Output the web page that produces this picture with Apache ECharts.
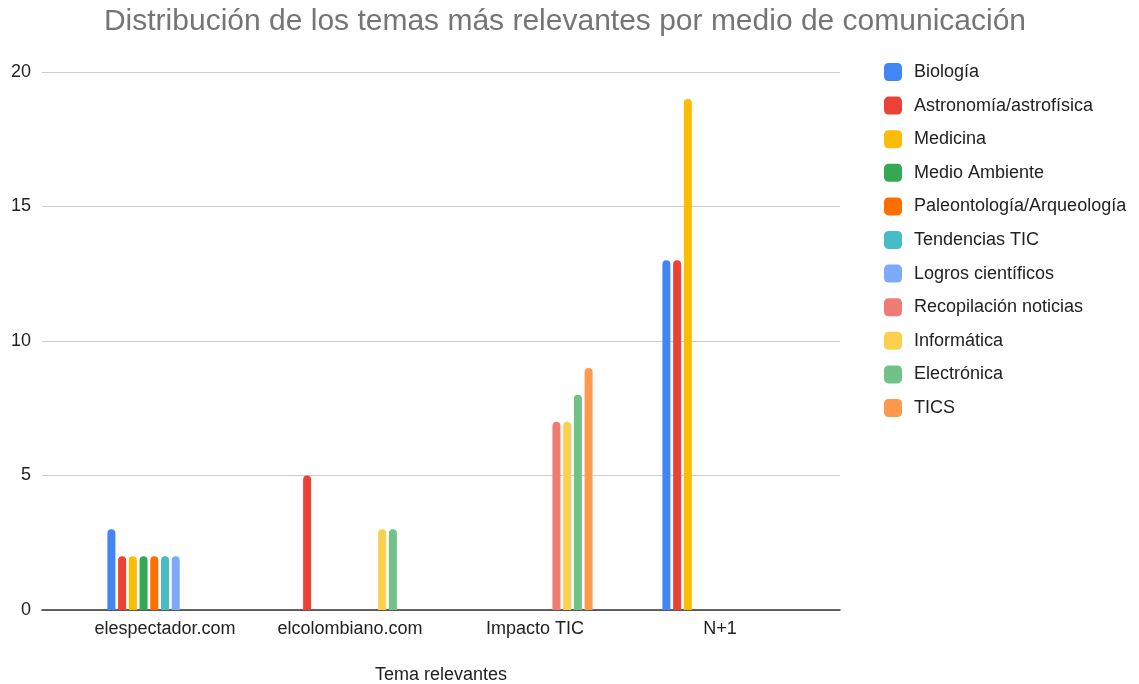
<!DOCTYPE html>
<html>
<head>
<meta charset="utf-8">
<script src="https://cdn.jsdelivr.net/npm/echarts@6/dist/echarts.min.js"></script>
<style>html,body{margin:0;padding:0;background:#fff}#c{width:1139px;height:684px}</style>
</head>
<body>
<div id="c"></div>
<script>
const categories = ['elespectador.com', 'elcolombiano.com', 'Impacto TIC', 'N+1'];
const seriesNames = ['Biología', 'Astronomía/astrofísica', 'Medicina', 'Medio Ambiente', 'Paleontología/Arqueología', 'Tendencias TIC', 'Logros científicos', 'Recopilación noticias', 'Informática', 'Electrónica', 'TICS'];
const biologia = [3, null, null, 13];
const astronomia = [2, 5, null, 13];
const medicina = [2, null, null, 19];
const medioAmbiente = [2, null, null, null];
const paleontologia = [2, null, null, null];
const tendenciasTIC = [2, null, null, null];
const logros = [2, null, null, null];
const recopilacion = [null, null, 7, null];
const informatica = [null, 3, 7, null];
const electronica = [null, 3, 8, null];
const tics = [null, null, 9, null];
const yTicks = [0, 5, 10, 15, 20];
const colors = ['#4285F4', '#EA4335', '#FBBC04', '#34A853', '#FF6D01', '#46BDC6', '#7BAAF7', '#F07B72', '#FCD04F', '#71C287', '#FF994D'];
const seriesData = [biologia, astronomia, medicina, medioAmbiente, paleontologia, tendenciasTIC, logros, recopilacion, informatica, electronica, tics];

const font = 'Liberation Sans, Arial, sans-serif';
const chart = echarts.init(document.getElementById('c'), null, {renderer: 'canvas'});
const series = seriesNames.map((n, i) => ({
  name: n, type: 'bar', xAxisIndex: 1, yAxisIndex: 1,
  data: seriesData[i], barWidth: 8, barGap: '34%',
  itemStyle: {color: colors[i], borderRadius: [4, 4, 0, 0]}
}));
chart.setOption({
  animation: false,
  color: colors,
  title: {
    text: 'Distribución de los temas más relevantes por medio de comunicación',
    left: 565, top: 7, textAlign: 'center', padding: 0,
    textStyle: {fontFamily: font, fontSize: 30, fontWeight: 'normal', color: '#757575'}
  },
  legend: {
    orient: 'vertical', left: 884, top: 63, padding: 0,
    itemWidth: 18, itemHeight: 18, itemGap: 15.6, icon: 'roundRect',
    data: seriesNames,
    textStyle: {fontFamily: font, fontSize: 18, color: '#222', padding: [0, 0, 0, 7]}
  },
  grid: [
    {left: 42, right: 299, top: 72, bottom: 74, outerBoundsMode: 'none', containLabel: false},
    {left: 72.5, width: 740, top: 72, bottom: 74, outerBoundsMode: 'none', containLabel: false}
  ],
  xAxis: [
    {gridIndex: 0, type: 'category', data: categories, axisLabel: {show: false}, axisTick: {show: false},
     axisLine: {show: true, lineStyle: {color: '#333', width: 1.5}},
     name: 'Tema relevantes', nameLocation: 'middle', nameGap: 56,
     nameTextStyle: {fontFamily: font, fontSize: 18, color: '#222', verticalAlign: 'top'}},
    {gridIndex: 1, type: 'category', data: categories, axisTick: {show: false}, axisLine: {show: false},
     axisLabel: {fontFamily: font, fontSize: 18, color: '#222', margin: 10, interval: 0}}
  ],
  yAxis: [
    {gridIndex: 0, type: 'value', min: yTicks[0], max: yTicks[yTicks.length - 1], interval: 5,
     axisLabel: {fontFamily: font, fontSize: 18, color: '#222', margin: 11},
     splitLine: {lineStyle: {color: '#cccccc', width: 1}}, axisLine: {show: false}, axisTick: {show: false}},
    {gridIndex: 1, type: 'value', min: yTicks[0], max: yTicks[yTicks.length - 1], interval: 5,
     show: false, splitLine: {show: false}}
  ],
  series: series
});
</script>
</body>
</html>
